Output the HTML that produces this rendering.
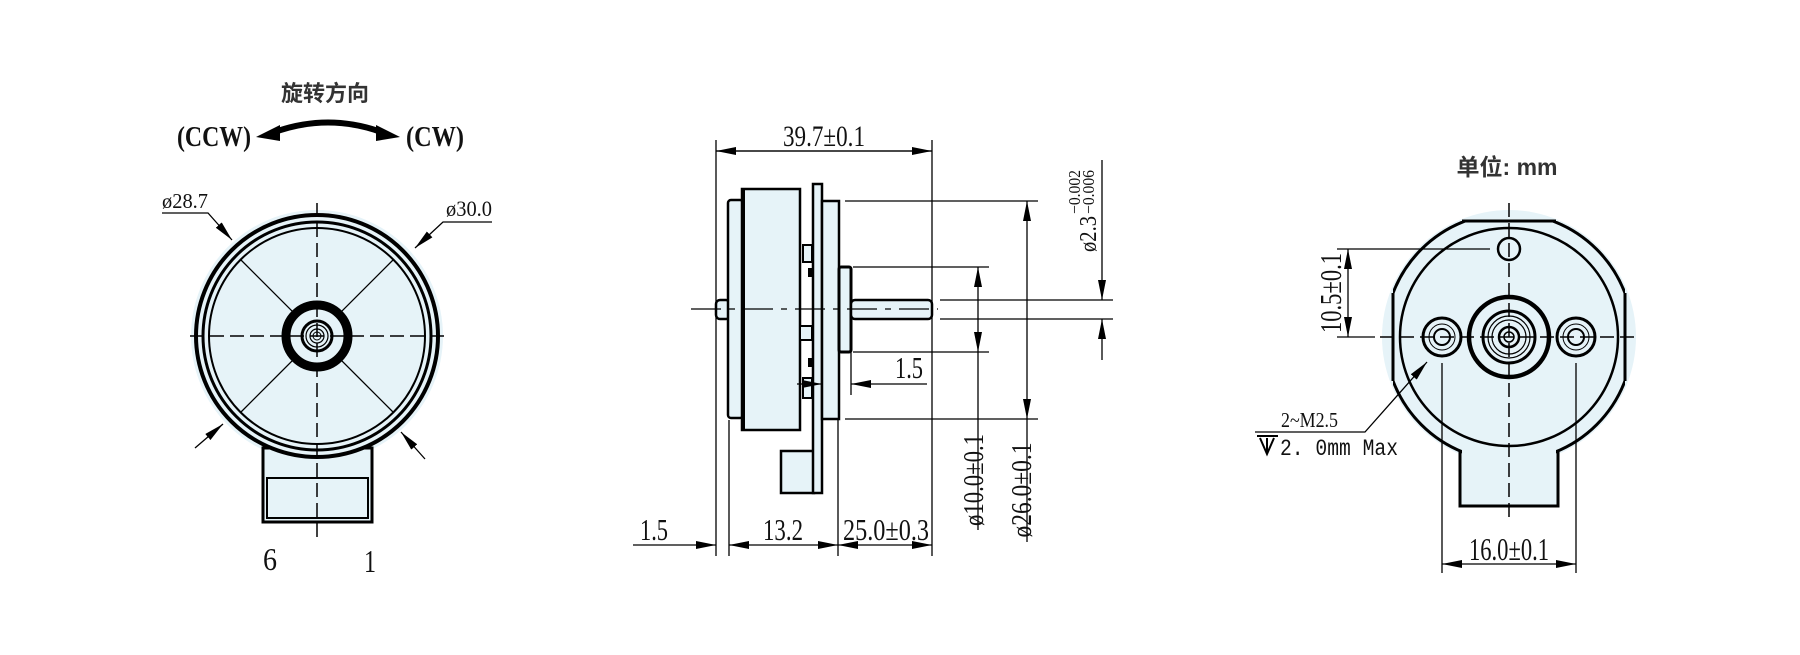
<!DOCTYPE html>
<html><head><meta charset="utf-8"><style>
html,body{margin:0;padding:0;background:#fff;}
svg{display:block;}
.t{font-family:"Liberation Serif",serif;fill:#111;}
.b{font-family:"Liberation Sans","Noto Sans CJK SC",sans-serif;font-weight:bold;fill:#333;}
</style></head><body>
<svg width="1800" height="655" viewBox="0 0 1800 655" xmlns="http://www.w3.org/2000/svg">
<defs>
<marker id="a" viewBox="0 0 20 8" refX="20" refY="4" markerWidth="20" markerHeight="8" markerUnits="userSpaceOnUse" orient="auto"><path d="M0,0L20,4L0,8z" fill="#000"/></marker>
</defs>
<rect width="1800" height="655" fill="#fff"/>

<!-- LEFT VIEW -->
<text class="b" x="325" y="101" font-size="22" text-anchor="middle">旋转方向</text>
<text class="t" x="177" y="146" font-size="28" font-weight="bold" textLength="74" lengthAdjust="spacingAndGlyphs">(CCW)</text>
<text class="t" x="406" y="146" font-size="28" font-weight="bold" textLength="58" lengthAdjust="spacingAndGlyphs">(CW)</text>
<path d="M272,133 Q328,112 384,133" stroke="#000" stroke-width="6" fill="none"/>
<path d="M256,137 L280,125 L280,141z" fill="#000"/>
<path d="M400,137 L376,125 L376,141z" fill="#000"/>

<circle cx="317" cy="336" r="126" fill="#e6f3f8"/>
<path d="M263,448 L263,522 L372,522 L372,448z" fill="#e6f3f8" stroke="#000" stroke-width="3"/>
<rect x="267" y="478" width="101" height="40" fill="#e6f3f8" stroke="#000" stroke-width="2"/>
<circle cx="317" cy="336" r="121" fill="#e6f3f8" stroke="#000" stroke-width="4"/>
<circle cx="317" cy="336" r="114" fill="none" stroke="#000" stroke-width="3"/>
<circle cx="317" cy="336" r="108" fill="#e6f3f8" stroke="#000" stroke-width="2"/>
<path d="M241,260 L393,412 M393,260 L241,412" stroke="#000" stroke-width="1.3"/>
<circle cx="317" cy="336" r="31" fill="#e6f3f8" stroke="#000" stroke-width="9"/>
<circle cx="317" cy="336" r="15" fill="#e6f3f8" stroke="#000" stroke-width="3"/>
<circle cx="317" cy="336" r="11" fill="none" stroke="#000" stroke-width="1.2"/>
<circle cx="317" cy="336" r="7" fill="none" stroke="#000" stroke-width="1.2"/>
<circle cx="317" cy="336" r="4" fill="none" stroke="#000" stroke-width="1"/>
<path d="M317,203 V540 M190,336 H447" stroke="#000" stroke-width="1.5" stroke-dasharray="14,6"/>
<text class="t" x="162" y="208" font-size="21" textLength="46" lengthAdjust="spacingAndGlyphs">ø28.7</text>
<path d="M162,213 H208 L232,240" stroke="#000" stroke-width="1.3" fill="none" marker-end="url(#a)"/>
<text class="t" x="446" y="216" font-size="22" textLength="46" lengthAdjust="spacingAndGlyphs">ø30.0</text>
<path d="M492,222 H443 L415,248" stroke="#000" stroke-width="1.3" fill="none" marker-end="url(#a)"/>
<path d="M195,448 L223,424" stroke="#000" stroke-width="1.3" marker-end="url(#a)"/>
<path d="M425,459 L401,432" stroke="#000" stroke-width="1.3" marker-end="url(#a)"/>
<text class="t" x="270" y="570" font-size="32" text-anchor="middle" textLength="14" lengthAdjust="spacingAndGlyphs">6</text>
<text class="t" x="370" y="572" font-size="32" text-anchor="middle" textLength="12" lengthAdjust="spacingAndGlyphs">1</text>

<!-- MIDDLE VIEW -->
<text class="t" x="824" y="146" font-size="30" text-anchor="middle" textLength="82" lengthAdjust="spacingAndGlyphs">39.7±0.1</text>
<path d="M716,140 V556 M932,140 V556" stroke="#000" stroke-width="1.3"/>
<path d="M716,151 H932" stroke="#000" stroke-width="1.3" marker-end="url(#a)"/>
<path d="M932,151 H716" stroke="#000" stroke-width="1.3" marker-end="url(#a)"/>

<rect x="716" y="300" width="14" height="19" rx="4" fill="#e6f3f8" stroke="#000" stroke-width="2.5"/>
<rect x="728" y="200" width="15" height="218" rx="3" fill="#e6f3f8" stroke="#000" stroke-width="2.5"/>
<rect x="742" y="189" width="58" height="241" fill="#e6f3f8" stroke="#000" stroke-width="2.5"/>
<path d="M743,189 V430" stroke="#000" stroke-width="4"/>
<rect x="803" y="245" width="9" height="17" fill="#e6f3f8" stroke="#000" stroke-width="2"/>
<rect x="808" y="268" width="4" height="9" fill="#000"/>
<rect x="800" y="326" width="12" height="14" fill="#e6f3f8" stroke="#000" stroke-width="2"/>
<rect x="808" y="358" width="4" height="9" fill="#000"/>
<rect x="803" y="378" width="9" height="20" fill="#e6f3f8" stroke="#000" stroke-width="2"/>
<rect x="781" y="451" width="33" height="42" fill="#e6f3f8" stroke="#000" stroke-width="2.5"/>
<rect x="813" y="184" width="9" height="309" fill="#e6f3f8" stroke="#000" stroke-width="2.5"/>
<rect x="822" y="201" width="17" height="218" fill="#e6f3f8" stroke="#000" stroke-width="2.5"/>
<rect x="839" y="267" width="12" height="85" rx="2" fill="#e6f3f8" stroke="#000" stroke-width="3"/>
<rect x="851" y="300" width="81" height="19" rx="4" fill="#e6f3f8" stroke="#000" stroke-width="2.5"/>
<path d="M691,309 H938" stroke="#000" stroke-width="1.3" stroke-dasharray="30,8,6,8"/>

<path d="M845,201 H1038 M845,419 H1038" stroke="#000" stroke-width="1.3"/>
<path d="M1027,310 V201" stroke="#000" stroke-width="1.3" marker-end="url(#a)"/>
<path d="M1027,310 V419" stroke="#000" stroke-width="1.3" marker-end="url(#a)"/>
<path d="M1027,419 V542" stroke="#000" stroke-width="1.3"/>
<text class="t" font-size="29" text-anchor="middle" transform="translate(1031,490) rotate(-90)" textLength="95" lengthAdjust="spacingAndGlyphs">ø26.0±0.1</text>

<path d="M853,267 H989 M853,352 H989" stroke="#000" stroke-width="1.3"/>
<path d="M978,310 V267" stroke="#000" stroke-width="1.3" marker-end="url(#a)"/>
<path d="M978,310 V352" stroke="#000" stroke-width="1.3" marker-end="url(#a)"/>
<path d="M978,352 V530" stroke="#000" stroke-width="1.3"/>
<text class="t" font-size="29" text-anchor="middle" transform="translate(983,480) rotate(-90)" textLength="92" lengthAdjust="spacingAndGlyphs">ø10.0±0.1</text>

<path d="M940,300 H1113 M940,319 H1113" stroke="#000" stroke-width="1.3"/>
<path d="M1102,160 V300" stroke="#000" stroke-width="1.3" marker-end="url(#a)"/>
<path d="M1102,360 V319" stroke="#000" stroke-width="1.3" marker-end="url(#a)"/>
<text class="t" font-size="24" transform="translate(1096,252) rotate(-90)" textLength="36" lengthAdjust="spacingAndGlyphs">ø2.3</text>
<text class="t" font-size="17" transform="translate(1080,214) rotate(-90)" textLength="44" lengthAdjust="spacingAndGlyphs">−0.002</text>
<text class="t" font-size="17" transform="translate(1094,214) rotate(-90)" textLength="44" lengthAdjust="spacingAndGlyphs">−0.006</text>

<text class="t" x="909" y="378" font-size="31" text-anchor="middle" textLength="28" lengthAdjust="spacingAndGlyphs">1.5</text>
<path d="M851,352 V395" stroke="#000" stroke-width="1.3"/>
<path d="M797,384 H822" stroke="#000" stroke-width="1.3" marker-end="url(#a)"/>
<path d="M927,384 H851" stroke="#000" stroke-width="1.3" marker-end="url(#a)"/>

<path d="M729,420 V556 M838,420 V556" stroke="#000" stroke-width="1.3"/>
<path d="M633,545 H716" stroke="#000" stroke-width="1.3" marker-end="url(#a)"/>
<path d="M783,545 H729" stroke="#000" stroke-width="1.3" marker-end="url(#a)"/>
<path d="M783,545 H838" stroke="#000" stroke-width="1.3" marker-end="url(#a)"/>
<path d="M885,545 H838" stroke="#000" stroke-width="1.3" marker-end="url(#a)"/>
<path d="M885,545 H932" stroke="#000" stroke-width="1.3" marker-end="url(#a)"/>
<text class="t" x="654" y="540" font-size="31" text-anchor="middle" textLength="28" lengthAdjust="spacingAndGlyphs">1.5</text>
<text class="t" x="783" y="540" font-size="31" text-anchor="middle" textLength="40" lengthAdjust="spacingAndGlyphs">13.2</text>
<text class="t" x="886" y="540" font-size="31" text-anchor="middle" textLength="86" lengthAdjust="spacingAndGlyphs">25.0±0.3</text>

<!-- RIGHT VIEW -->
<text class="b" x="1507" y="175" font-size="23" text-anchor="middle">单位: mm</text>
<circle cx="1509" cy="337" r="127" fill="#e6f3f8"/>
<clipPath id="cl"><rect x="1393" y="221" width="232" height="300"/></clipPath>
<path d="M1460,440 L1460,506 L1558,506 L1558,440z" fill="#e6f3f8" stroke="#000" stroke-width="3"/>
<circle cx="1509" cy="337" r="124" fill="#e6f3f8" stroke="#000" stroke-width="3" clip-path="url(#cl)"/>
<path d="M1462,221 L1556,221" stroke="#000" stroke-width="3"/>
<path d="M1393,293 V381 M1625,293 V381" stroke="#000" stroke-width="3"/>
<rect x="1462" y="445" width="94" height="59" fill="#e6f3f8"/>
<circle cx="1509" cy="337" r="109" fill="#e6f3f8" stroke="#000" stroke-width="2.5"/>
<circle cx="1509" cy="249" r="11" fill="#e6f3f8" stroke="#000" stroke-width="2.5"/>
<circle cx="1509" cy="337" r="40" fill="#e6f3f8" stroke="#000" stroke-width="4.5"/>
<circle cx="1509" cy="337" r="26" fill="none" stroke="#000" stroke-width="3"/>
<circle cx="1509" cy="337" r="21" fill="none" stroke="#000" stroke-width="1.2"/>
<circle cx="1509" cy="337" r="17" fill="none" stroke="#000" stroke-width="1.2"/>
<circle cx="1509" cy="337" r="10" fill="none" stroke="#000" stroke-width="2.5"/>
<circle cx="1509" cy="337" r="5" fill="none" stroke="#000" stroke-width="1.5"/>
<circle cx="1442" cy="337" r="19" fill="#e6f3f8" stroke="#000" stroke-width="3"/>
<circle cx="1442" cy="337" r="13" fill="none" stroke="#000" stroke-width="1"/>
<circle cx="1442" cy="337" r="8" fill="none" stroke="#000" stroke-width="2"/>
<circle cx="1576" cy="337" r="19" fill="#e6f3f8" stroke="#000" stroke-width="3"/>
<circle cx="1576" cy="337" r="13" fill="none" stroke="#000" stroke-width="1"/>
<circle cx="1576" cy="337" r="8" fill="none" stroke="#000" stroke-width="2"/>
<path d="M1380,337 H1638 M1509,203 V520" stroke="#000" stroke-width="1.5" stroke-dasharray="14,6"/>
<path d="M1337,249 H1490 M1337,337 H1375" stroke="#000" stroke-width="1.3"/>
<path d="M1348,293 V249" stroke="#000" stroke-width="1.3" marker-end="url(#a)"/>
<path d="M1348,293 V337" stroke="#000" stroke-width="1.3" marker-end="url(#a)"/>
<text class="t" font-size="31" text-anchor="middle" transform="translate(1341,293) rotate(-90)" textLength="80" lengthAdjust="spacingAndGlyphs">10.5±0.1</text>
<path d="M1442,363 V573 M1576,363 V573" stroke="#000" stroke-width="1.3"/>
<path d="M1509,564 H1442" stroke="#000" stroke-width="1.3" marker-end="url(#a)"/>
<path d="M1509,564 H1576" stroke="#000" stroke-width="1.3" marker-end="url(#a)"/>
<text class="t" x="1509" y="560" font-size="32" text-anchor="middle" textLength="80" lengthAdjust="spacingAndGlyphs">16.0±0.1</text>
<path d="M1255,432 H1365 L1427,362" stroke="#000" stroke-width="1.3" fill="none" marker-end="url(#a)"/>
<text class="t" x="1281" y="427" font-size="21" textLength="57" lengthAdjust="spacingAndGlyphs">2~M2.5</text>
<path d="M1257,436 H1278 M1260,438 L1267,454 L1274,438 M1267,438 V454" stroke="#000" stroke-width="2" fill="none"/>
<text class="t" x="1280" y="455" font-size="23" textLength="118" lengthAdjust="spacingAndGlyphs" style="font-family:'Liberation Mono',monospace">2. 0mm Max</text>
</svg>
</body></html>
